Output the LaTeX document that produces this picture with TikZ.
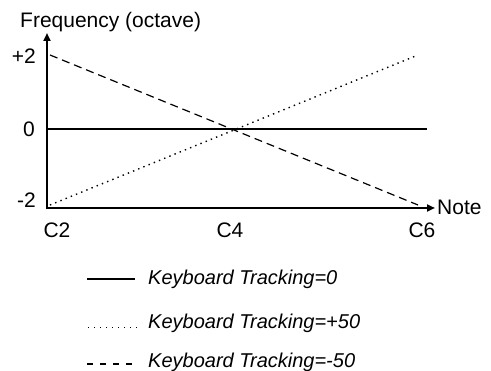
\documentclass[tikz,border=0pt]{standalone}
\usepackage{fontspec}
\setmainfont{Liberation Sans}
\usetikzlibrary{arrows.meta}
\begin{document}
\begin{tikzpicture}[x=1pt,y=-1pt,
  axis/.style={line width=2.8pt,-{Triangle[length=8pt,width=7pt]}},
  txt/.style={inner sep=0pt,font=\fontsize{21}{25}\selectfont},
  lbl/.style={txt,font=\fontsize{20}{24}\selectfont\itshape},
  curve/.style={line width=1.2pt},
  dashcurve/.style={curve,dash pattern=on 8pt off 5pt},
  dotcurve/.style={curve,line width=1.4pt,dash pattern=on 1.4pt off 4.2pt},
]
\useasboundingbox (0,0) rectangle (491,371);
\coordinate (O) at (47,208);
\coordinate (ytip) at (47,33);
\coordinate (xtip) at (435,208);
\coordinate (zl) at (47,129);
\coordinate (zr) at (427,129);
\coordinate (tl) at (50,55);
\coordinate (tr) at (418,55);
\coordinate (bl) at (50,205);
\coordinate (br) at (418,205);
% curves
\draw[curve] (zl) -- (zr);
\draw[dashcurve] (tl) -- (br);
\draw[dotcurve] (bl) -- (tr);
% axes
\draw[axis,-] (ytip|-O) ++(0,1.4) -- (O);
\draw[axis] (O) -- (ytip);
\draw[axis] (O) -- (xtip);
% labels
\node[txt,anchor=base west] (ylab) at (20,28) {Frequency (octave)};
\node[txt,anchor=base west] (xlab) at (437,215) {Note};
\node[txt,anchor=east] (p2) at (36,56) {+2};
\node[txt,anchor=east] (z0) at (35,129) {0};
\node[txt,anchor=east] (m2) at (36,200) {-2};
\node[txt,anchor=base] (c2) at (57,238) {C2};
\node[txt,anchor=base] (c4) at (230,238) {C4};
\node[txt,anchor=base] (c6) at (422,238) {C6};
% legend
\coordinate (l1a) at (87,279); \coordinate (l1b) at (135,279);
\coordinate (l2a) at (88,327); \coordinate (l2b) at (137,327);
\coordinate (l3a) at (87,364); \coordinate (l3b) at (137,364);
\draw[line width=1.1pt] (l1a) -- (l1b);
\draw[line width=0.9pt,dash pattern=on 1pt off 5pt] (l2a) -- (l2b);
\draw[line width=1.1pt,dash pattern=on 6pt off 7pt] (l3a) -- (l3b);
\node[lbl,anchor=base west] (k0) at (148,285) {Keyboard Tracking=0};
\node[lbl,anchor=base west] (k1) at (148,329) {Keyboard Tracking=+50};
\node[lbl,anchor=base west] (k2) at (148,368) {Keyboard Tracking=-50};
\end{tikzpicture}
\end{document}
